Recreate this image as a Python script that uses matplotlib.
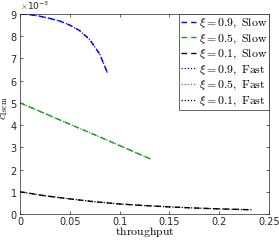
import matplotlib.pyplot as plt
from matplotlib.ticker import ScalarFormatter

plt.rcParams['mathtext.fontset'] = 'cm'
plt.rcParams['font.size'] = 7

# data (y in absolute units)
x_09 = [0, 0.01, 0.02, 0.03, 0.04, 0.05, 0.06, 0.07, 0.08, 0.088]
y_09 = [0.0090, 0.00897, 0.00890, 0.00880, 0.00868, 0.00850, 0.00825, 0.00785, 0.00720, 0.00633]
x_05 = [0, 0.02, 0.04, 0.06, 0.08, 0.10, 0.12, 0.132]
y_05 = [0.0050, 0.00462, 0.00423, 0.00385, 0.00347, 0.00308, 0.00269, 0.00246]
x_01 = [0, 0.025, 0.05, 0.075, 0.10, 0.125, 0.15, 0.175, 0.20, 0.2326]
y_01 = [0.0010, 0.00082, 0.00068, 0.00055, 0.00045, 0.00038, 0.00032, 0.00027, 0.00023, 0.00019]

xis = ['0.9', '0.5', '0.1']
colors = ['#0000ff', '#1a9a1a', '#000000']
series = [(x_09, y_09), (x_05, y_05), (x_01, y_01)]

fig = plt.figure(figsize=(2.79, 2.40), dpi=100)
ax = fig.add_axes([20/279, 26/240, 249/279, 200/240])

# slow (dashed)
for xi, c, (x, y) in zip(xis, colors, series):
    ax.plot(x, y, '--', color=c, lw=1.0, dashes=(4, 3),
            label=r'$\xi = %s,\ \mathrm{Slow}$' % xi)
# fast (dotted)
for xi, c, (x, y) in zip(xis, colors, series):
    ax.plot(x, y, ':', color=c, lw=0.9, dashes=(1, 1.5),
            label=r'$\xi = %s,\ \mathrm{Fast}$' % xi)

ax.set_xlim(0, 0.25)
ax.set_ylim(0, 0.009)
ax.set_xticks([0, 0.05, 0.1, 0.15, 0.2, 0.25])
ax.set_xticklabels(['0', '0.05', '0.1', '0.15', '0.2', '0.25'])
fmt = ScalarFormatter(useMathText=True)
fmt.set_powerlimits((-2, 2))
ax.yaxis.set_major_formatter(fmt)
ax.yaxis.get_offset_text().set_fontsize(6.5)
ax.tick_params(direction='in', top=True, right=True, length=2.5, width=0.5,
               colors='#262626', labelsize=7, pad=2)
for s in ax.spines.values():
    s.set_color('#262626')
    s.set_linewidth(0.5)

ax.set_xlabel(r'$\mathrm{throughput}$', fontsize=8.5, labelpad=-1)
ax.set_ylabel(r'$c_{\mathrm{1scm}}$', fontsize=8, labelpad=0)
ax.yaxis.set_label_coords(-0.04, 0.53)

leg = ax.legend(loc='upper right', fontsize=8.5, borderaxespad=0, handlelength=1.3,
                handletextpad=0.25, labelspacing=0.12, borderpad=0.15, fancybox=False,
                framealpha=1)
leg.get_frame().set_edgecolor('#262626')
leg.get_frame().set_linewidth(0.5)

fig.savefig('out.png', dpi=100)
